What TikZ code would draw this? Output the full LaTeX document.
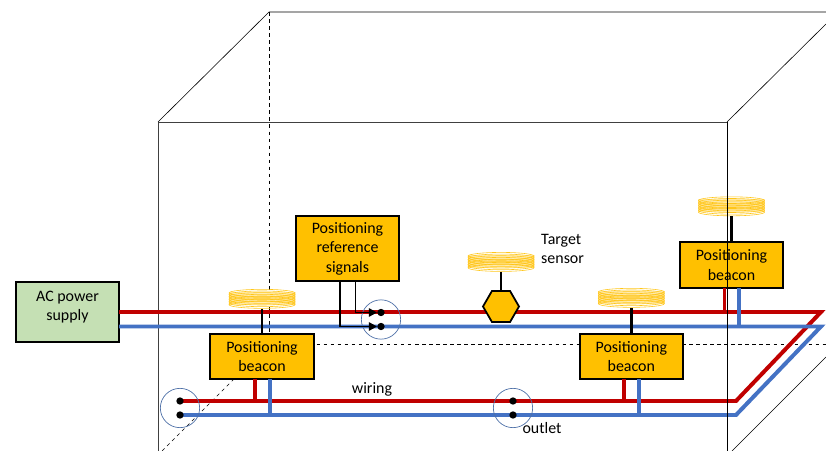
\documentclass[tikz,border=0pt]{standalone}
\usepackage{fontspec}
\setmainfont{Carlito}
\usepackage{tikz}
\usetikzlibrary{positioning}
\usetikzlibrary{arrows.meta}
\usetikzlibrary{shapes.geometric}

\definecolor{BoxOrange}{HTML}{FFC000}
\definecolor{BoxGreen}{HTML}{C5E0B4}
\definecolor{WireRed}{HTML}{C00000}
\definecolor{WireBlue}{HTML}{4472C4}
\definecolor{RingBlue}{HTML}{4F71A8}

\tikzset{
	box/.style={draw, line width=1.5pt, fill=BoxOrange, align=center, outer sep=0pt, inner sep=0pt,
		font=\fontsize{13.6}{16.6}\selectfont, minimum width=3.1cm, minimum height=1.36cm},
	coil/.style={minimum width=2.01cm, minimum height=0.63cm, inner sep=0pt, outer sep=0pt,
		path picture={
			\fill[BoxOrange!30] ([yshift=-0.19cm]path picture bounding box.west) rectangle ([yshift=0.19cm]path picture bounding box.east);
			\foreach \dy in {-0.19,-0.14,...,0.2}
			\draw[BoxOrange!90, line width=0.5pt] ([yshift=\dy cm]path picture bounding box.center) ellipse [x radius=0.99cm, y radius=0.11cm];
		}},
	redwire/.style={WireRed, line width=3.4pt, line join=miter},
	bluewire/.style={WireBlue, line width=3.4pt, line join=miter},
	stem/.style={line width=2pt},
	signal/.style={line width=1.7pt, -{Triangle[length=7pt,width=7pt]}},
	dot/.style={circle, fill=black, inner sep=0pt, minimum size=0.22cm},
	ring/.style={circle, draw=RingBlue, line width=0.6pt, inner sep=0pt, minimum size=1.18cm},
	room/.style={line width=0.5pt},
	hidden/.style={line width=0.5pt, dashed},
	label/.style={font=\fontsize{13.6}{16.6}\selectfont, align=left, inner sep=0pt}
}

\begin{document}
\begin{tikzpicture}[x=0.03cm, y=-0.03cm]
	\useasboundingbox (0,0) rectangle (826,451);
	
	% room
	\draw[room, black!75] (158,451) -- (158,122) -- (727,122);
	\draw[room] (158,122) -- (269,12) -- (826,12);
	\draw[room] (727,122) -- (826,24);
	\draw[room] (826,357) -- (732,451);
	\draw[hidden] (269,12) -- (269,344) -- (826,344);
	\draw[hidden] (269,344) -- (162,451);
	
	% ---
	
	\node[
	box,
	fill=BoxGreen,
	minimum height=1.8cm,
	text depth=0.38cm
	] (ACSupply) at (67.5,312) {AC power\\supply};
	
	\node[box] (BeaconA) at (262,356.5) {Positioning\\beacon};
	
	\node[
	box,
	right=7.98cm of BeaconA
	] (BeaconB) {Positioning\\beacon};
	
	\node[box] (BeaconC) at (731.5,265) {Positioning\\beacon};
	
	\node[
	box,
	minimum height=1.95cm
	] (RefSignals) at (347.5,248.5) {Positioning\\reference\\signals};
	
	% ---
	
	\coordinate (BackRed) at (180,401);
	\coordinate (BackBlue) at (180,415);
	\coordinate (RedStart) at (119,312);
	\coordinate (RedCorner) at (821,312);
	\coordinate (RedBend) at (736,401);
	\coordinate (BlueStart) at (119,326.5);
	\coordinate (BlueCorner) at (821,326.5);
	\coordinate (BlueBend) at (736,415);
	
	\draw[redwire] (RedStart) -- (RedCorner) -- (RedBend) -- (BackRed);
	\draw[bluewire] (BlueStart) -- (BlueCorner) -- (BlueBend) -- (BackBlue);
	
	% ---
	
	\draw[redwire] ([xshift=-0.21cm]BeaconA.south) -- ([xshift=-0.21cm]BeaconA.south |- BackRed);
	\draw[bluewire] ([xshift=0.23cm]BeaconA.south) -- ([xshift=0.23cm]BeaconA.south |- BackBlue);
	\draw[redwire] ([xshift=-0.21cm]BeaconB.south) -- ([xshift=-0.21cm]BeaconB.south |- BackRed);
	\draw[bluewire] ([xshift=0.23cm]BeaconB.south) -- ([xshift=0.23cm]BeaconB.south |- BackBlue);
	\draw[redwire] ([xshift=-0.21cm]BeaconC.south) -- ([xshift=-0.21cm]BeaconC.south |- RedStart);
	\draw[bluewire] ([xshift=0.23cm]BeaconC.south) -- ([xshift=0.23cm]BeaconC.south |- BlueStart);
	
	% ---
	
	\node[dot] (DotBackRed) at (BackRed) {};
	\node[dot] (DotBackBlue) at (BackBlue) {};
	\node[dot] (DotMidRed) at (513,401) {};
	\node[dot] (DotMidBlue) at (513,415) {};
	\node[dot] (DotRefRed) at (381,312.5) {};
	\node[dot] (DotRefBlue) at (381,326.5) {};
	
	% ---
	
	\node[coil, above=0.75cm of BeaconA] (CoilA) {};
	\node[coil, above=0.78cm of BeaconB] (CoilB) {};
	\node[coil, above=0.78cm of BeaconC] (CoilC) {};
	
	\node[
	regular polygon,
	regular polygon sides=6,
	draw,
	line width=1.5pt,
	fill=BoxOrange,
	inner sep=0pt,
	outer sep=0pt,
	minimum size=1.08cm
	] (Sensor) at (501,306.5) {};
	
	\node[coil, above=0.57cm of Sensor] (CoilSensor) {};
	
	\draw[stem] (CoilA.south) -- (BeaconA.north);
	\draw[stem] (CoilB.south) -- (BeaconB.north);
	\draw[stem] (CoilC.south) -- (BeaconC.north);
	\draw[stem] (CoilSensor.south) -- (Sensor.north);
	
	% ---
	
	\node[ring] (OutletBack) at (180,408) {};
	\node[ring] (OutletMid) at (513,408) {};
	\node[ring] (OutletRef) at (381,319.5) {};
	
	\draw[signal] ([xshift=0.24cm]RefSignals.south) |- (DotRefRed.west);
	\draw[signal] ([xshift=-0.225cm]RefSignals.south) |- (DotRefBlue.west);
	
	\draw[room] (727,122) -- (727,451);
	
	% ---
	
	\node[label, anchor=north west] (TargetLabel) at (541,234) {Target\\sensor};
	\node[label] (WiringLabel) at (372,389) {wiring};
	\node[label] (OutletLabel) at (542,428) {outlet};
\end{tikzpicture}
\end{document}
